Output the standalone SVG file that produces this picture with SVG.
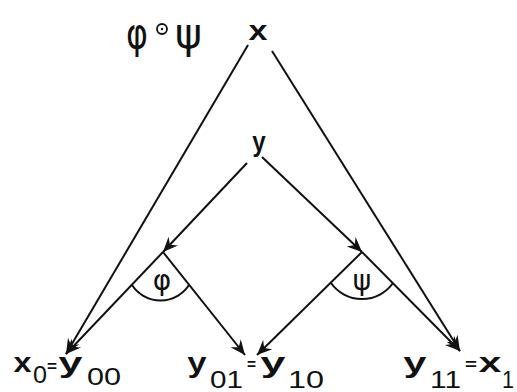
<svg xmlns="http://www.w3.org/2000/svg" width="517" height="392" viewBox="0 0 517 392">
<defs>
<marker id="arr" viewBox="-16 -7 17 14" refX="0" refY="0" markerWidth="17" markerHeight="14" markerUnits="userSpaceOnUse" orient="auto">
<path d="M0,0 L-15,-6.5 L-10,0 L-15,6.5 Z" fill="#111"/>
</marker>
<style>
.ln{stroke:#111;stroke-width:2;fill:none}
.arr{marker-end:url(#arr)}
.v{font-family:"Liberation Mono","DejaVu Sans Mono",monospace;font-weight:bold;font-size:28px;fill:#111}
.d{font-family:"Liberation Sans","DejaVu Sans",sans-serif;font-size:24px;fill:#111}
.eq{font-family:"Liberation Sans","DejaVu Sans",sans-serif;font-size:17px;font-weight:bold;fill:#111}
.g{font-family:"DejaVu Sans","Liberation Sans",sans-serif;fill:#111}
</style>
</defs>
<rect width="517" height="392" fill="#fff"/>
<g id="connectors">
<path class="ln arr" d="M248,45 L66,354"/>
<path class="ln arr" d="M272,51 L460,351"/>
<path class="ln arr" d="M247,163 L163,252"/>
<path class="ln arr" d="M262,157 L362,252"/>
<path class="ln arr" d="M163,252 L66,354"/>
<path class="ln arr" d="M163,252 L245,355"/>
<path class="ln arr" d="M362,252 L257,355"/>
<path class="ln arr" d="M362,252 L460,351"/>
</g>
<g id="title">
<text class="g" x="126" y="48" font-size="42" textLength="22" lengthAdjust="spacingAndGlyphs">φ</text>
<circle cx="162" cy="29" r="5" fill="none" stroke="#111" stroke-width="1.8"/>
<circle cx="162" cy="29" r="1.2" fill="#111"/>
<text class="g" x="175" y="48" font-size="42" textLength="27" lengthAdjust="spacingAndGlyphs">ψ</text>
</g>
<g id="node-x"><text class="v" x="248" y="40" textLength="20" lengthAdjust="spacingAndGlyphs">x</text></g>
<g id="node-y"><text class="v" x="252" y="151" textLength="14" lengthAdjust="spacingAndGlyphs">y</text></g>
<g id="angle-phi">
<path class="ln" d="M132,285 A34,34 0 0 0 189,285"/>
<text class="g" x="162" y="290" font-size="28" text-anchor="middle">φ</text>
</g>
<g id="angle-psi">
<path class="ln" d="M331,283 A38,38 0 0 0 393,283"/>
<text class="g" x="362" y="290" font-size="28" text-anchor="middle">ψ</text>
</g>
<g id="node-x0">
<text class="v" x="13" y="372" textLength="19" lengthAdjust="spacingAndGlyphs">x</text>
<text class="d" x="33" y="383" textLength="14" lengthAdjust="spacingAndGlyphs">0</text>
<text class="eq" x="47" y="372" textLength="10" lengthAdjust="spacingAndGlyphs">=</text>
<text class="v" x="58" y="372" textLength="25" lengthAdjust="spacingAndGlyphs">y</text>
<text class="d" x="87" y="385" textLength="34" lengthAdjust="spacingAndGlyphs">00</text>
</g>
<g id="node-y01">
<text class="v" x="187" y="372" textLength="20" lengthAdjust="spacingAndGlyphs">y</text>
<text class="d" x="210" y="388" textLength="33" lengthAdjust="spacingAndGlyphs">01</text>
<text class="eq" x="247" y="370" textLength="9" lengthAdjust="spacingAndGlyphs">=</text>
<text class="v" x="260" y="372" textLength="26" lengthAdjust="spacingAndGlyphs">y</text>
<text class="d" x="288" y="388" textLength="36" lengthAdjust="spacingAndGlyphs">10</text>
</g>
<g id="node-y11">
<text class="v" x="403" y="372" textLength="24" lengthAdjust="spacingAndGlyphs">y</text>
<text class="d" x="430" y="388" textLength="31" lengthAdjust="spacingAndGlyphs">11</text>
<text class="eq" x="465" y="370" textLength="12" lengthAdjust="spacingAndGlyphs">=</text>
<text class="v" x="478" y="372" textLength="24" lengthAdjust="spacingAndGlyphs">x</text>
<text class="d" x="502" y="388" textLength="12" lengthAdjust="spacingAndGlyphs">1</text>
</g>
</svg>
